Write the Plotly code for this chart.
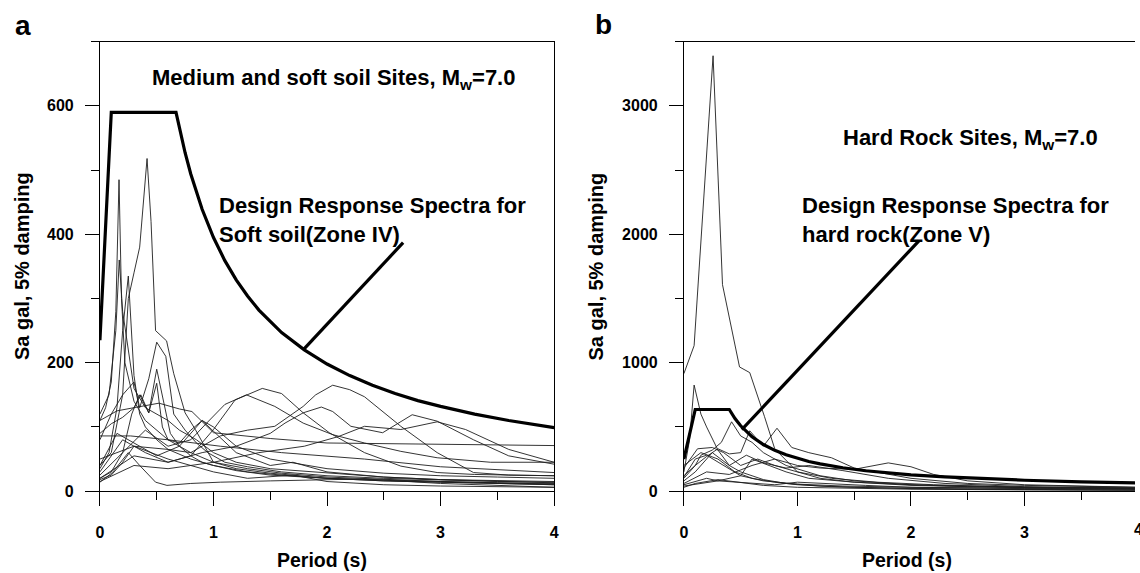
import plotly.graph_objects as go

# ---------------- data: left panel (medium & soft soil) ----------------
soft_curves_x = [
    [0, 0.05, 0.1, 0.14, 0.168, 0.19, 0.22, 0.3, 0.4, 0.5, 0.6, 0.8, 1.0, 1.3, 1.6, 2.0, 2.5, 3.0, 3.5, 4.0],
    [0, 0.1, 0.2, 0.25, 0.3, 0.35, 0.415, 0.45, 0.49, 0.587, 0.65, 0.75, 0.84, 1.0, 1.2, 1.5, 2.0, 2.5, 3.0, 3.5, 4.0],
    [0, 0.08, 0.15, 0.2, 0.25, 0.3, 0.35, 0.4, 0.5, 0.6, 0.8, 1.0, 1.3, 1.6, 2.0, 2.5, 3.0, 3.5, 4.0],
    [0, 0.08, 0.14, 0.17, 0.2, 0.25, 0.3, 0.4, 0.5, 0.6, 0.7, 0.85, 1.0, 1.2, 1.5, 2.0, 2.5, 3.0, 3.5, 4.0],
    [0, 0.1, 0.2, 0.3, 0.35, 0.43, 0.5, 0.58, 0.65, 0.75, 0.85, 0.95, 1.1, 1.3, 1.6, 2.0, 2.5, 3.0, 3.5, 4.0],
    [0, 0.1, 0.2, 0.28, 0.35, 0.43, 0.5, 0.56, 0.62, 0.7, 0.8, 0.9, 1.0, 1.2, 1.5, 2.0, 2.5, 3.0, 3.5, 4.0],
    [0, 0.1, 0.2, 0.3, 0.36, 0.43, 0.5, 0.55, 0.6, 0.7, 0.8, 0.9, 1.0, 1.2, 1.5, 2.0, 2.5, 3.0, 3.5, 4.0],
    [0, 0.2, 0.4, 0.6, 0.8, 1.0, 1.19, 1.43, 1.6, 1.79, 2.02, 2.33, 2.65, 2.97, 3.3, 3.6, 4.0],
    [0, 0.2, 0.4, 0.6, 0.8, 0.94, 1.1, 1.29, 1.54, 1.79, 2.05, 2.33, 2.65, 2.97, 3.44, 4.0],
    [0, 0.3, 0.6, 0.8, 1.06, 1.3, 1.54, 1.79, 1.9, 2.05, 2.2, 2.33, 2.65, 2.97, 3.29, 3.6, 4.0],
    [0, 0.3, 0.6, 0.9, 1.2, 1.5, 1.63, 1.79, 1.95, 2.05, 2.21, 2.49, 2.75, 2.97, 3.29, 3.6, 4.0],
    [0, 0.3, 0.6, 1.0, 1.4, 1.8, 2.1, 2.33, 2.65, 2.97, 3.22, 3.6, 4.0],
    [0, 0.15, 0.3, 0.52, 0.7, 0.81, 1.0, 1.5, 2.0, 3.0, 4.0],
    [0, 0.27, 0.6, 1.06, 1.6, 2.33, 3.0, 4.0],
    [0, 0.11, 0.25, 0.35, 0.49, 0.59, 0.8, 1.06, 1.5, 2.0, 2.33, 3.0, 4.0],
    [0, 0.1, 0.2, 0.3, 0.45, 0.6, 0.8, 1.0, 1.3, 1.7, 2.0, 2.5, 3.0, 3.5, 4.0],
    [0, 0.15, 0.3, 0.5, 0.7, 0.9, 1.2, 1.5, 1.7, 2.0, 2.5, 3.0, 4.0],
]
soft_curves_y = [
    [110, 130, 170, 280, 485, 300, 200, 140, 110, 95, 80, 60, 45, 35, 28, 22, 18, 15, 13, 11],
    [40, 60, 150, 300, 340, 380, 518, 420, 250, 234, 183, 122, 96, 45, 35, 28, 20, 16, 14, 12, 10],
    [35, 60, 130, 250, 335, 180, 120, 100, 80, 65, 50, 40, 30, 25, 20, 16, 14, 12, 10],
    [120, 150, 250, 360, 280, 220, 160, 130, 120, 110, 95, 80, 60, 45, 35, 28, 22, 18, 15, 13],
    [80, 120, 150, 170, 130, 175, 232, 210, 120, 95, 75, 60, 45, 38, 30, 24, 20, 17, 15, 14],
    [20, 30, 60, 120, 150, 122, 190, 140, 90, 70, 55, 45, 40, 32, 25, 20, 17, 15, 13, 12],
    [90, 105, 115, 130, 150, 122, 168, 100, 80, 75, 95, 110, 100, 70, 50, 35, 28, 24, 22, 20],
    [30, 80, 60, 45, 55, 96, 142, 160, 152, 122, 91, 60, 39, 29, 26, 25, 24],
    [25, 60, 95, 70, 80, 106, 135, 150, 132, 106, 88, 75, 62, 52, 45, 45],
    [50, 70, 65, 60, 86, 95, 101, 132, 150, 165, 158, 147, 101, 60, 29, 25, 24],
    [20, 55, 45, 60, 70, 90, 106, 122, 131, 124, 101, 91, 119, 109, 80, 55, 42],
    [15, 40, 35, 45, 60, 70, 85, 101, 96, 108, 96, 65, 45],
    [110, 125, 130, 137, 128, 124, 91, 82, 75, 73, 71],
    [86, 86, 80, 70, 60, 50, 38, 29],
    [14, 29, 60, 40, 14, 9, 12, 14, 16, 18, 19, 12, 6],
    [18, 25, 45, 70, 60, 50, 40, 30, 20, 25, 15, 10, 8, 7, 6],
    [40, 90, 75, 55, 70, 110, 60, 40, 45, 30, 22, 18, 15],
]
soft_design_x = [0, 0.1, 0.67, 0.7, 0.75, 0.8, 0.9, 1.0, 1.1, 1.2, 1.3, 1.4, 1.5, 1.6, 1.8, 2.0,
                 2.2, 2.4, 2.6, 2.8, 3.0, 3.3, 3.6, 4.0]
soft_design_y = [235, 590, 590, 565, 527, 494, 439, 395, 359, 329, 304, 282, 264, 247, 220, 198,
                 180, 165, 152, 141, 132, 120, 110, 99]
soft_leader_x = [1.79, 2.67]
soft_leader_y = [220, 387]

# ---------------- data: right panel (hard rock) ----------------
rock_curves_x = [
    [0, 0.09, 0.257, 0.34, 0.49, 0.58, 0.71, 0.8, 1.0, 1.2, 1.5, 2.0, 2.5, 3.0, 3.5, 4.0],
    [0, 0.05, 0.09, 0.15, 0.2, 0.3, 0.4, 0.5, 0.7, 0.9, 1.2, 1.5, 2.0, 3.0, 4.0],
    [0, 0.1, 0.15, 0.25, 0.33, 0.42, 0.5, 0.6, 0.7, 0.9, 1.2, 1.5, 2.0, 2.5, 3.0, 4.0],
    [0, 0.1, 0.2, 0.3, 0.4, 0.5, 0.58, 0.7, 0.82, 0.95, 1.1, 1.3, 1.5, 2.0, 2.5, 3.0, 4.0],
    [0, 0.2, 0.4, 0.6, 0.8, 1.0, 1.2, 1.5, 1.8, 2.0, 2.2, 2.5, 3.0, 3.5, 4.0],
    [0, 0.15, 0.3, 0.45, 0.6, 0.8, 1.0, 1.3, 1.6, 2.0, 2.5, 3.0, 4.0],
    [0, 0.1, 0.25, 0.4, 0.55, 0.7, 0.9, 1.1, 1.4, 1.8, 2.3, 3.0, 4.0],
    [0, 0.1, 0.3, 0.5, 0.7, 1.0, 1.5, 2.0, 3.0, 4.0],
    [0, 0.2, 0.3, 0.45, 0.6, 0.8, 1.0, 1.3, 1.6, 2.0, 3.0, 4.0],
    [0, 0.1, 0.2, 0.35, 0.5, 0.7, 1.0, 1.4, 2.0, 3.0, 4.0],
    [0, 0.12, 0.25, 0.35, 0.5, 0.65, 0.8, 1.0, 1.3, 1.7, 2.2, 3.0, 4.0],
    [0, 0.3, 0.5, 0.6, 0.75, 0.9, 1.1, 1.5, 2.0, 2.5, 3.0, 4.0],
]
rock_curves_y = [
    [915, 1133, 3390, 1608, 967, 923, 580, 330, 150, 100, 70, 45, 35, 28, 24, 20],
    [150, 400, 826, 600, 500, 320, 200, 150, 90, 60, 40, 30, 20, 12, 8],
    [120, 200, 280, 320, 380, 540, 430, 380, 300, 200, 120, 80, 50, 35, 28, 20],
    [100, 200, 270, 330, 290, 300, 470, 350, 490, 340, 300, 260, 180, 100, 60, 45, 30],
    [60, 150, 130, 200, 250, 200, 180, 170, 220, 190, 130, 80, 50, 40, 30],
    [200, 300, 250, 150, 100, 70, 50, 35, 28, 20, 15, 12, 8],
    [80, 150, 300, 200, 280, 220, 180, 200, 160, 100, 60, 35, 25],
    [30, 60, 90, 70, 45, 30, 20, 15, 10, 8],
    [50, 100, 80, 70, 60, 50, 70, 60, 45, 30, 20, 15],
    [110, 250, 280, 200, 120, 80, 55, 40, 30, 20, 15],
    [180, 330, 340, 300, 200, 250, 200, 150, 100, 70, 50, 30, 20],
    [40, 80, 120, 250, 200, 150, 100, 70, 50, 40, 30, 25],
]
rock_design_x = [0, 0.1, 0.4, 0.45, 0.5, 0.55, 0.6, 0.7, 0.8, 0.9, 1.0, 1.1, 1.2, 1.4, 1.6, 1.8,
                 2.0, 2.3, 2.6, 3.0, 3.5, 4.0]
rock_design_y = [250, 636, 636, 565, 509, 463, 424, 363, 318, 283, 254, 231, 212, 182, 159, 141,
                 127, 111, 98, 85, 73, 64]
rock_leader_x = [0.51, 2.07]
rock_leader_y = [479, 1949]

soft_yticks = [0, 200, 400, 600]
rock_yticks = [0, 1000, 2000, 3000]
xticks = [0, 1, 2, 3, 4]

# ---------------- figure ----------------
W, H = 1140, 573
FONT = "Liberation Sans, Arial, sans-serif"
thin = dict(color="#1e1e1e", width=0.9)
thick = dict(color="black", width=3.2)

fig = go.Figure()
for xs, ys in zip(soft_curves_x, soft_curves_y):
    fig.add_trace(go.Scatter(x=xs, y=ys, mode="lines", line=thin, xaxis="x", yaxis="y", hoverinfo="skip"))
fig.add_trace(go.Scatter(x=soft_design_x, y=soft_design_y, mode="lines", line=thick, xaxis="x", yaxis="y"))
fig.add_trace(go.Scatter(x=soft_leader_x, y=soft_leader_y, mode="lines", line=thick, xaxis="x", yaxis="y"))

for xs, ys in zip(rock_curves_x, rock_curves_y):
    fig.add_trace(go.Scatter(x=xs, y=ys, mode="lines", line=thin, xaxis="x2", yaxis="y2", hoverinfo="skip"))
fig.add_trace(go.Scatter(x=rock_design_x, y=rock_design_y, mode="lines", line=thick, xaxis="x2", yaxis="y2"))
fig.add_trace(go.Scatter(x=rock_leader_x, y=rock_leader_y, mode="lines", line=thick, xaxis="x2", yaxis="y2"))

ydom = [(H - 499) / H, (H - 42.3) / H]
left_dom = [96.7 / W, 554.5 / W]
right_x0 = 685.3
px_per_unit = (554.5 - 96.7) / 4
right_range_end = (W - right_x0) / px_per_unit

tickfont = dict(family=FONT, size=16, color="black", weight="bold")
common_x = dict(showgrid=False, zeroline=False, showline=True, linecolor="black", linewidth=1,
                ticks="outside", ticklen=14, tickcolor="black", tickwidth=1,
                tickvals=xticks, ticktext=[str(v) for v in xticks], tickfont=tickfont,
                ticklabelstandoff=13,
                minor=dict(dtick=0.5, tick0=0, ticks="outside", ticklen=8, tickcolor="black", tickwidth=1),
                mirror=True)
common_y = dict(showgrid=False, zeroline=False, showline=True, linecolor="black", linewidth=1,
                ticks="outside", ticklen=14, tickcolor="black", tickwidth=1, tickfont=tickfont,
                ticklabelstandoff=8)

fig.update_layout(
    width=W, height=H, autosize=False,
    margin=dict(l=0, r=0, t=0, b=0),
    paper_bgcolor="white", plot_bgcolor="white",
    showlegend=False,
    xaxis=dict(common_x, domain=left_dom, range=[0, 4], anchor="y"),
    yaxis=dict(common_y, domain=ydom, range=[0, 700], anchor="x",
               tickvals=soft_yticks, ticktext=[str(v) for v in soft_yticks], mirror=True,
               minor=dict(dtick=100, tick0=0, ticks="outside", ticklen=8, tickcolor="black", tickwidth=1)),
    xaxis2=dict(common_x, domain=[right_x0 / W, 1.0], range=[0, right_range_end], anchor="y2"),
    yaxis2=dict(common_y, domain=ydom, range=[0, 3500], anchor="x2",
                tickvals=rock_yticks, ticktext=[str(v) for v in rock_yticks], mirror=False,
                minor=dict(dtick=500, tick0=0, ticks="outside", ticklen=8, tickcolor="black", tickwidth=1)),
)

def ann(text, x, y, size, xref="paper", yref="paper", xanchor="center", yanchor="middle", angle=0, align="center"):
    fig.add_annotation(text=text, x=x, y=y, xref=xref, yref=yref, xanchor=xanchor, yanchor=yanchor,
                       textangle=angle, align=align, showarrow=False,
                       font=dict(family=FONT, size=size, color="black", weight="bold"))

# panel letters
ann("a", 9 / W, (H - 26) / H, 28, xanchor="left")
ann("b", 594 / W, (H - 25) / H, 28, xanchor="left")
# panel titles
ann("Medium and soft soil Sites, M<sub>w</sub>=7.0", 2.06, 642, 22, xref="x", yref="y")
ann("Hard Rock Sites, M<sub>w</sub>=7.0", 2.52, 2740, 22, xref="x2", yref="y2")
# design spectra labels
ann("Design Response Spectra for<br>Soft soil(Zone IV)", 1.03, 423, 22, xref="x", yref="y", xanchor="left", align="left")
ann("Design Response Spectra for<br>hard rock(Zone V)", 1.025, 2115, 22, xref="x2", yref="y2", xanchor="left", align="left")
# axis titles
ann("Sa gal, 5% damping", 18 / W, (H - 270.5) / H, 20, angle=-90)
ann("Sa gal, 5% damping", 597 / W, (H - 270.5) / H, 20, angle=-90)
ann("Period (s)", 321 / W, (H - 569) / H, 19.5)
ann("Period (s)", 910 / W, (H - 569) / H, 19.5)
# clipped tick label "4" of the right panel at the page edge
ann("4", (right_x0 + 4 * px_per_unit) / W, (H - 538) / H, 16)

fig.write_html("out.html")
